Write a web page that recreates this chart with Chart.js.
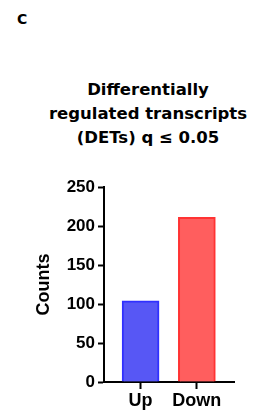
<!DOCTYPE html>
<html>
<head>
<meta charset="utf-8">
<script src="https://cdn.jsdelivr.net/npm/chart.js@4"></script>
<style>
html, body { margin: 0; padding: 0; background: #fff; }
#wrap { position: relative; width: 259px; height: 415px; }
#panel { position: absolute; left: 17px; top: 11px; font-family: "DejaVu Sans", sans-serif; font-size: 14px; font-weight: bold; color: #000; }
#title { position: absolute; left: 38px; width: 220px; top: 78px; text-align: center; font-family: "DejaVu Sans", sans-serif; font-size: 16.5px; line-height: 24px; font-weight: bold; color: #000; }
canvas { position: absolute; left: 0; top: 0; }
</style>
</head>
<body>
<div id="wrap">
<div id="panel">C</div>
<div id="title">Differentially<br>regulated transcripts<br>(DETs) q ≤ 0.05</div>
<canvas id="chart" width="259" height="415"></canvas>
</div>
<script>
const categories = ['Up', 'Down'];
const counts = [104, 211];
const yTicks = [0, 50, 100, 150, 200, 250];

const fills = ['#5757f5', '#ff5e5e'];
const borders = ['#3030ff', '#ff3333'];

const points = categories.map((c, i) => ({ x: i, y: counts[i] }));

const tickFont = { family: 'Liberation Sans', size: 17, weight: 'bold' };

new Chart(document.getElementById('chart'), {
  type: 'bar',
  data: {
    datasets: [{
      label: 'Counts',
      data: points,
      backgroundColor: fills,
      borderColor: borders,
      borderWidth: 2,
      barThickness: 37
    }]
  },
  options: {
    responsive: false,
    animation: false,
    layout: { padding: { left: 33, right: 25, top: 187, bottom: 0 } },
    plugins: {
      legend: { display: false },
      tooltip: { enabled: false }
    },
    scales: {
      x: {
        type: 'linear',
        min: -0.65,
        max: 1.66,
        bounds: 'data',
        offset: false,
        afterBuildTicks: s => { s.ticks = categories.map((c, i) => ({ value: i })); },
        afterFit: s => { s.height = 33; },
        ticks: {
          callback: v => categories[v],
          color: '#000',
          font: { family: 'Liberation Sans', size: 18, weight: 'bold' },
          padding: 1,
          maxRotation: 0
        },
        grid: { offset: false, drawOnChartArea: false, tickLength: 7, tickColor: '#000', tickWidth: 2 },
        border: { color: '#000', width: 2 }
      },
      y: {
        min: 0,
        max: 250,
        afterBuildTicks: s => { s.ticks = yTicks.map(v => ({ value: v })); },
        afterFit: s => { s.width = 71; },
        ticks: {
          color: '#000',
          font: tickFont,
          padding: 3
        },
        grid: { drawOnChartArea: false, tickLength: 6, tickColor: '#000', tickWidth: 2 },
        border: { color: '#000', width: 2 },
        title: {
          display: true,
          text: 'Counts',
          color: '#000',
          font: { family: 'Liberation Sans', size: 18, weight: 'bold' },
          padding: 0
        }
      }
    }
  }
});
</script>
</body>
</html>
